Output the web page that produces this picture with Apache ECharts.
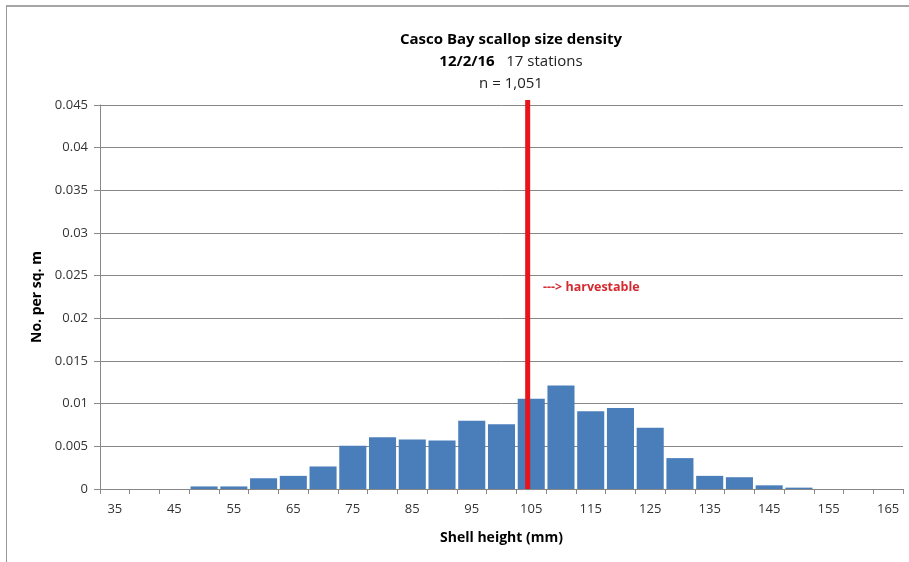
<!DOCTYPE html>
<html><head><meta charset="utf-8">
<script src="https://cdn.jsdelivr.net/npm/echarts@6/dist/echarts.min.js"></script>
<style>html,body{margin:0;padding:0;background:#fff}#c{width:909px;height:562px}</style>
</head><body><div id="c"></div>
<script>
const categories = ['35','40','45','50','55','60','65','70','75','80','85','90','95','100','105','110','115','120','125','130','135','140','145','150','155','160','165'];
const density = [0,0,0,0.0003,0.0003,0.00126,0.00154,0.00264,0.00508,0.00606,0.00579,0.00567,0.0080,0.0076,0.01059,0.01213,0.0091,0.00949,0.00717,0.00362,0.00154,0.00138,0.00043,0.00016,0,0,0];
const yTicks = [0,0.005,0.01,0.015,0.02,0.025,0.03,0.035,0.04,0.045];
const harvestLimit = 104.4;
const lineTop = 0.0456;

const font = '"Open Sans", "Noto Sans", sans-serif';
const chart = echarts.init(document.getElementById('c'));
chart.setOption({
  animation: false,
  backgroundColor: '#fff',
  title: {
    left: 506, top: 24, textAlign: 'center',
    text: '{b|Casco Bay scallop size density}\n{b|12/2/16}{r|   17 stations}\n{r|n = 1,051}',
    textStyle: {
      fontWeight: 'normal',
      rich: {
        b: {fontFamily: font, fontWeight: 'bold', fontSize: 15, color: '#000', lineHeight: 22},
        r: {fontFamily: font, fontWeight: 'normal', fontSize: 15, color: '#222', lineHeight: 22}
      }
    }
  },
  grid: {left: 100, right: 6, top: 105, bottom: 73},
  xAxis: [{
    type: 'category', data: categories,
    name: 'Shell height (mm)', nameLocation: 'middle', nameGap: 42,
    nameTextStyle: {fontFamily: font, fontWeight: 'bold', fontSize: 14, color: '#000'},
    axisLine: {lineStyle: {color: '#888'}},
    axisTick: {show: true, interval: 0, length: 5, lineStyle: {color: '#888'}},
    axisLabel: {interval: 1, margin: 14, fontFamily: font, fontSize: 13, color: '#333'}
  }, {
    type: 'value', min: 32.5, max: 167.5, show: false
  }],
  yAxis: {
    type: 'value', min: 0, max: 0.045, interval: 0.005,
    name: 'No. per sq. m', nameLocation: 'middle', nameGap: 54,
    nameTextStyle: {fontFamily: font, fontWeight: 'bold', fontSize: 14, color: '#000'},
    axisLine: {show: true, lineStyle: {color: '#888'}},
    axisTick: {show: true, length: 6, lineStyle: {color: '#888'}},
    splitLine: {lineStyle: {color: '#888'}},
    axisLabel: {margin: 12, fontFamily: font, fontSize: 13, color: '#333',
      formatter: v => { const t = yTicks.find(x => Math.abs(x - v) < 1e-9); return t === undefined ? '' : String(+t.toFixed(3)); }}
  },
  series: [{
    type: 'bar', data: density, xAxisIndex: 0,
    barCategoryGap: '9%',
    itemStyle: {color: '#4a7ebb'}
  }, {
    type: 'line', xAxisIndex: 1, data: [[harvestLimit, 0], [harvestLimit, lineTop]],
    symbol: 'none', clip: false,
    lineStyle: {color: '#e8141b', width: 5}, z: 5
  }],
  graphic: [
    {type: 'line', shape: {x1: 6, y1: 6, x2: 909, y2: 6}, style: {stroke: '#888', lineWidth: 1.5}},
    {type: 'line', shape: {x1: 6.5, y1: 6, x2: 6.5, y2: 562}, style: {stroke: '#999', lineWidth: 1}},
    {type: 'text', left: 543, top: 281, style: {text: '---> harvestable', fill: '#d42a30', font: 'bold 12.5px ' + font}}
  ]
});
</script></body></html>
